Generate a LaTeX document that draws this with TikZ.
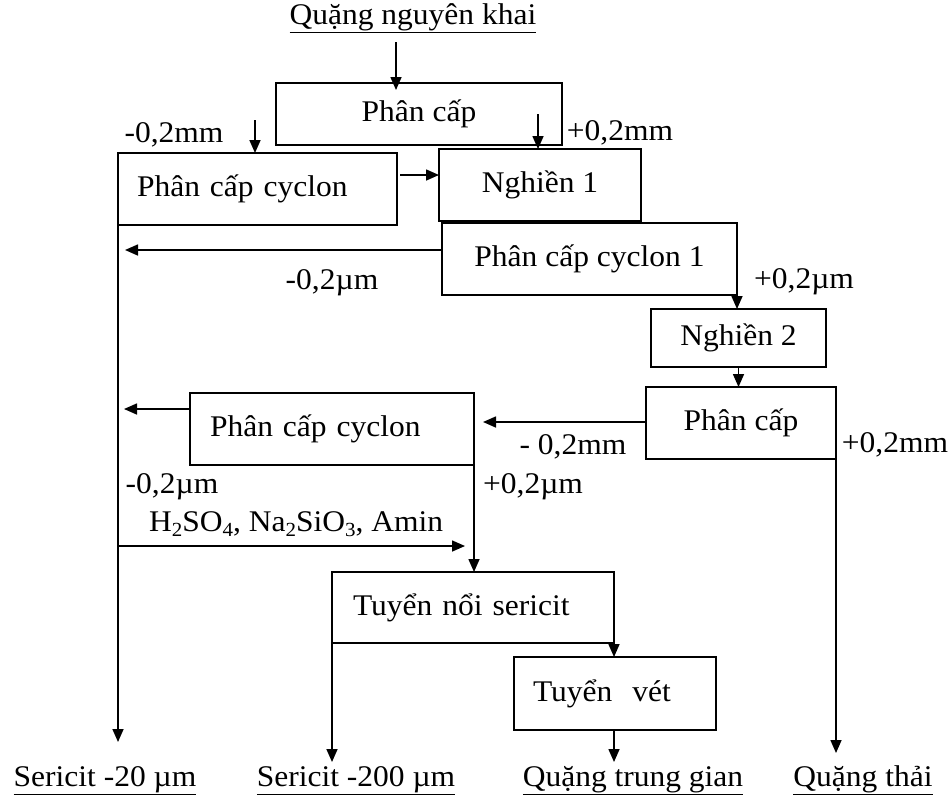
\documentclass[tikz,border=0pt]{standalone}
\usepackage{fontspec}
\setmainfont[FakeStretch=1.05]{Liberation Serif}
\usetikzlibrary{arrows.meta}
\newcommand\mysub[1]{\raisebox{-0.35ex}{\fontsize{20}{20}\selectfont #1}}
\tikzset{
  box/.style={draw, line width=1.7pt, inner sep=0pt, outer sep=0pt, anchor=north west, font=\fontsize{30}{34}\selectfont},
  leftbox/.style={box, align=left, text width=#1},
  arr/.style={line width=1.6pt, -{Triangle[length=13pt,width=11pt]}},
  lbl/.style={inner sep=0pt, font=\fontsize{30}{34}\selectfont},
  outlbl/.style={lbl, anchor=base}
}
\begin{document}
\begin{tikzpicture}[x=1pt,y=-1pt]
\useasboundingbox (0,0) rectangle (949,796);
% boxes
\node[box, minimum width=286pt, minimum height=62pt] (pc) at (276,83) {\raisebox{-3pt}{Phân cấp}};
\node[leftbox=241pt, minimum width=279pt, minimum height=72pt] (cyc) at (118,153) {Phân cấp cyclon};
\node[box, minimum width=202pt, minimum height=72pt] (ng1) at (439,149) {Nghiền 1};
\node[box, minimum width=295pt, minimum height=72pt] (cyc1) at (442,223) {Phân cấp cyclon 1};
\node[box, minimum width=175pt, minimum height=58pt] (ng2) at (651,309) {Nghiền 2};
\node[box, minimum width=190pt, minimum height=72pt] (pc2) at (646,387) {\raisebox{5pt}{Phân cấp}};
\node[leftbox=244pt, minimum width=284pt, minimum height=72pt] (cyc2) at (190,393) {Phân cấp cyclon};
\node[leftbox=240pt, minimum width=282pt, minimum height=71pt] (tns) at (332,572) {\raisebox{4pt}{Tuyển nổi sericit}};
\node[leftbox=164pt, minimum width=202pt, minimum height=73pt] (tv) at (514,657) {Tuyển\ \ vét};
% labels
\node[lbl] (src) at (413,18) {\underline{Quặng nguyên khai}};
\node[lbl] (l1) at (174,135) {-0,2mm};
\node[lbl] (l2) at (620,133) {+0,2mm};
\node[lbl] (l3) at (332,283) {-0,2µm};
\node[lbl] (l4) at (804,282) {+0,2µm};
\node[lbl] (l5) at (573,447) {- 0,2mm};
\node[lbl] (l6) at (895,445) {+0,2mm};
\node[lbl] (l7) at (172,487) {-0,2µm};
\node[lbl] (l8) at (533,487) {+0,2µm};
\node[lbl, anchor=west] (l9) at (149,524) {H\mysub{2}SO\mysub{4}, Na\mysub{2}SiO\mysub{3}, Amin};
\node[outlbl] (o1) at (105,786) {\underline{Sericit -20 µm}};
\node[outlbl] (o2) at (356,786) {\underline{Sericit -200 µm}};
\node[outlbl] (o3) at (633,786) {\underline{Quặng trung gian}};
\node[outlbl] (o4) at (863,786) {\underline{Quặng thải}};
% free ends
\coordinate (a1) at (396,42);
\coordinate (a2) at (255,120);
\coordinate (a3) at (538,114);
\coordinate (t5) at (125,250);
\coordinate (t8) at (483,422);
\coordinate (t9) at (124,409);
\coordinate (t11) at (465,546);
% connectors
\draw[arr] (a1) -- ([yshift=-7pt]a1 |- pc.north);
\draw[arr] (a2) -- (a2 |- cyc.north);
\draw[arr] (a3) -- (a3 |- ng1.north);
\draw[arr] (cyc.east |- 0,175) ++(3,0) -- (ng1.west |- 0,175);
\draw[arr] (cyc1.west |- t5) -- (t5);
\draw[arr] (cyc1.south east) -- (cyc1.south east |- ng2.north);
\draw[arr] (ng2.south) -- (pc2.north -| ng2.south);
\draw[arr] (pc2.west |- t8) -- (t8);
\draw[arr] (cyc2.west |- t9) -- (t9);
\draw[arr] (cyc.south west) -- (cyc.south west |- 0,742);
\draw[arr] (cyc.west |- t11) -- (t11);
\draw[arr] (cyc2.south east) -- (cyc2.south east |- tns.north);
\draw[arr] (tns.south west) -- (tns.south west |- 0,762);
\draw[arr] (tns.south east) -- (tns.south east |- tv.north);
\draw[arr] (tns.south east |- tv.south) -- (tns.south east |- 0,762);
\draw[arr] (pc2.south east) -- (pc2.south east |- 0,753);
\end{tikzpicture}
\end{document}
